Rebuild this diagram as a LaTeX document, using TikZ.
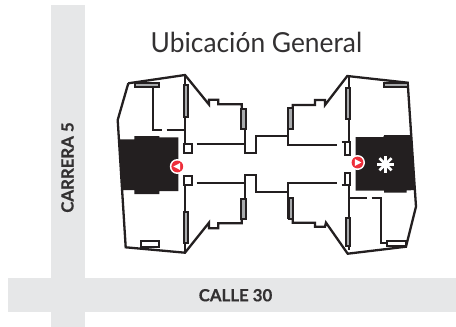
\documentclass[tikz,border=0pt]{standalone}
\usepackage{fontspec}
\setmainfont{Lato}
\definecolor{roadgray}{HTML}{E6E7E8}
\definecolor{ink}{HTML}{231F20}
\definecolor{txt}{HTML}{333132}
\definecolor{marker}{HTML}{EE2E3A}
\definecolor{glaze}{HTML}{A8AAAC}
\tikzset{
  road/.style={fill=roadgray,draw=none},
  wall/.style={draw=ink,line width=2.3pt,line join=miter},
  thin wall/.style={draw=ink,line width=2pt},
  glass/.style={thin wall,fill=glaze},
  clear/.style={thin wall,fill=white},
  block/.style={fill=ink,draw=none},
  halo/.style={fill=white,draw=none},
  redmark/.style={fill=marker,draw=none},
  tip/.style={fill=white,draw=none},
  star/.style={draw=white,line width=2.6pt},
  title/.style={text=txt,inner sep=0pt,font=\fontsize{27.6}{30}\selectfont,xscale=0.955},
  roadname/.style={text=txt,inner sep=0pt,font=\bfseries\addfontfeature{FakeBold=0.5}\fontsize{16.8}{18}\selectfont}
}
\begin{document}
\begin{tikzpicture}[x=1pt,y=-1pt]
\useasboundingbox (0,0) rectangle (456,327);
\fill[white] (0,0) rectangle (456,327);
% roads
\path[road] (51,5) rectangle (85,327);
\path[road] (8,278) rectangle (456,311.7);
% labels
\node[title,anchor=base west] (titulo) at (150.5,52.7) {Ubicación General};
\node[roadname,anchor=base] (calle) at (235.5,301.3) {CALLE 30};
\node[roadname,anchor=base,rotate=90] (carrera) at (73.5,167.5) {CARRERA 5};
% black blocks
\path[block] (119.2,139.3) -- (134.3,139.3) -- (134.3,136) -- (159.3,136) -- (159.3,137.3) -- (178.3,137.3) -- (178.3,191) -- (159.3,191) -- (159.3,194) -- (134.3,194) -- (134.3,190) -- (122,190) -- cycle;
\path[block] (355.7,137) -- (383.3,137) -- (384.3,135) -- (411,135) -- (414.8,190) -- (406.7,190.5) -- (406.7,192.7) -- (384,192.7) -- (384,190.5) -- (355.7,190.5) -- cycle;
% left building
\path[wall] (128.3,83.3) -- (185,75) -- (209,104.5) -- (209,99.7) -- (218.3,99.7) -- (218.3,104.3) -- (241.7,104.3) -- (241.7,109);
\path[wall] (128.3,83.3) -- (117.7,120) -- (125.7,247.3) -- (185,252.7) -- (209,222.7) -- (209,228.3) -- (218.3,228.3) -- (218.3,223.3) -- (241.7,223.3) -- (241.7,219);
\path[wall] (185,75) -- (185,153.3);
\path[wall] (185,175.7) -- (185,252.7);
\path[wall] (152.7,86) -- (152.7,130) -- (161.7,130);
\path[wall] (166.7,130) -- (185,130);
\path[wall] (196.7,143.8) -- (244.7,143.8);
\path[wall] (196.7,183.3) -- (244.7,183.3);
% link between buildings
\path[wall] (244.7,109) -- (244.7,153.3) -- (256,153.3) -- (256,136) -- (288.3,136);
\path[wall] (244.7,219) -- (244.7,175) -- (256,175) -- (256,191.8) -- (288.3,191.8);
% right building
\path[wall] (288.3,109) -- (288.3,145) -- (336.7,145);
\path[wall] (288.3,219) -- (288.3,183.3) -- (336.7,183.3);
\path[wall] (292.7,109) -- (292.7,105) -- (315,105) -- (315,100) -- (325,100) -- (325,105) -- (347.3,76) -- (407.7,82.7) -- (416,206.7) -- (406,246.7) -- (347.7,253.7) -- (326,222.7) -- (325,226.7) -- (315,226.7) -- (315,222.7) -- (292.7,222.7) -- (292.7,219);
\path[wall] (349.3,76) -- (349.3,155);
\path[wall] (349.3,173.3) -- (349.3,250);
\path[wall] (341.7,141.7) -- (349.3,141.7);
\path[wall] (341.7,185) -- (349.3,185);
\path[wall] (349.3,198.3) -- (366.7,198.3);
\path[wall] (371.7,198.3) -- (380.7,198.3) -- (380.7,243.3) -- (387.3,243.3);
% windows
\path[glass] (135,82.7) rectangle (159,87.3);
\path[glass] (183.5,85) rectangle (188.3,116.7);
\path[clear] (184,144) rectangle (191.7,153.3);
\path[clear] (184,175.7) rectangle (191.7,185);
\path[glass] (183.5,212.3) rectangle (188,243.3);
\path[clear] (140.7,241) rectangle (159.3,246.7);
\path[glass] (241,109) rectangle (246,129.3);
\path[glass] (241,199) rectangle (246,219);
\path[glass] (287.5,108.3) rectangle (293.3,129.3);
\path[glass] (288.5,198.3) rectangle (293.3,219);
\path[glass] (346,88.3) rectangle (350,119.3);
\path[clear] (345,141.7) rectangle (349.5,155);
\path[clear] (345,173.3) rectangle (349.5,185);
\path[glass] (346,217.7) rectangle (350,245.7);
\path[glass] (384.3,83.3) rectangle (407.7,87.3);
\path[clear] (387.3,241) rectangle (406,246);
% markers
\path[halo] (177.3,166.5) circle (7.5);
\path[redmark] (177.3,166.5) circle (5.9);
\path[tip] (173.4,166.5) -- (180.2,163) -- (180.2,170) -- cycle;
\path[halo] (357.5,162.5) circle (7.5);
\path[redmark] (357.5,162.5) circle (5.9);
\path[tip] (361.4,162.5) -- (354.8,159) -- (354.8,166) -- cycle;
% asterisk
\foreach \a in {0,45,...,315}{\path[star] (385.5,164.3) -- ++(\a:8.6);}
\end{tikzpicture}
\end{document}
